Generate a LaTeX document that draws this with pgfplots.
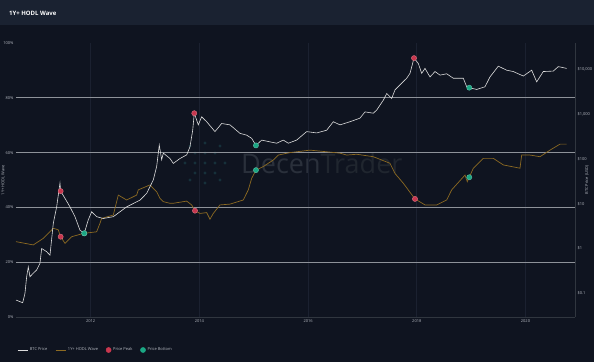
\documentclass[border=0pt]{standalone}
\usepackage{fontspec}
\setmainfont{Open Sans}
\usepackage{pgfplots}
\pgfplotsset{compat=1.18}
\pgfplotsset{lineleg/.style={legend image code/.code={\draw[##1] (0pt,0pt) -- (10pt,0pt);}}}
\definecolor{bg}{HTML}{0F1420}
\definecolor{titlebg}{HTML}{1A2231}
\definecolor{gridh}{HTML}{8E9299}
\definecolor{gridv}{HTML}{1B2130}
\definecolor{axisc}{HTML}{30363F}
\definecolor{tickc}{HTML}{B4B8C0}
\definecolor{pricec}{HTML}{DCDCDC}
\definecolor{hodlc}{HTML}{8C6A22}
\definecolor{peakc}{HTML}{C8374E}
\definecolor{bottc}{HTML}{1BA784}
\definecolor{wmA}{HTML}{2A303B}
\definecolor{wmB}{HTML}{20262F}
\definecolor{wmdot}{HTML}{16303A}
\begin{document}
\begin{tikzpicture}[x=1pt,y=1pt]
\fill[bg] (0,0) rectangle (594,362);
\fill[titlebg] (0,337) rectangle (594,362);
\node[anchor=west, text=white, font=\bfseries\fontsize{6}{7}\selectfont, inner sep=0] at (9,349) {1Y+ HODL Wave};
% watermark
\foreach \dx/\dy in {0/0,10/0,-10/0,20/0,-20/0,0/10,10/10,-10/10,0/-10,10/-10,-10/-10,0/20,0/-20,15/17,-15/17,15/-17,-15/-17}
  \fill[wmdot] (205+\dx,199+\dy) circle (1.6);
\node[anchor=west, inner sep=0, font=\fontsize{27}{30}\selectfont] at (241,199) {\textcolor{wmA}{Decen}\textcolor{wmB}{Trader}};

\begin{axis}[
  at={(16pt,45pt)}, anchor=south west, scale only axis,
  width=559pt, height=274pt,
  xmin=2010.626, xmax=2020.911, ymin=0, ymax=100,
  axis x line*=bottom, axis y line*=left,
  x axis line style={draw=axisc, line width=0.6pt},
  y axis line style={draw=none},
  major tick length=0pt,
  xtick={2012,2014,2016,2018,2020},
  xticklabels={2012,2014,2016,2018,2020},
  xmajorgrids, x grid style={draw=gridv, line width=0.6pt},
  ytick={0,20,40,60,80,100},
  yticklabels={0\%,20\%,40\%,60\%,80\%,100\%},
  extra y ticks={20,40,60,80},
  extra y tick labels={},
  extra y tick style={ymajorgrids=true, y grid style={draw=gridh, line width=0.9pt}},
  tick label style={font=\fontsize{4}{5}\selectfont, text=tickc},
  /pgf/number format/assume math mode=true,
  yticklabel style={xshift=1pt},
  xticklabel style={yshift=0.5pt},
  ylabel={1Y+ HODL Wave},
  every axis y label/.style={at={(rel axis cs:0,0.5)}, rotate=90, anchor=center, yshift=13pt, font=\fontsize{4}{5}\selectfont, text=tickc},
  clip=false,
]
\addplot[hodlc, line width=0.7pt] coordinates {
(2010.626,27.5)(2010.944,26.3)(2011.128,28.7)(2011.312,32.4)(2011.404,31.8)(2011.448,29.3)(2011.527,26.9)(2011.650,29.3)(2011.864,30.5)(2012.110,31.1)(2012.171,34.2)(2012.202,36.0)(2012.416,37.2)(2012.508,44.5)(2012.662,42.7)(2012.846,44.5)(2012.876,46.4)(2013.091,48.2)(2013.214,45.7)(2013.275,43.3)(2013.336,42.1)(2013.459,41.5)(2013.520,41.5)(2013.766,42.3)(2013.858,40.9)(2013.919,38.8)(2014.011,37.8)(2014.134,38.1)(2014.195,35.7)(2014.256,37.8)(2014.379,40.9)(2014.563,41.2)(2014.808,42.7)(2014.900,46.4)(2014.962,50.6)(2015.041,53.6)(2015.176,54.9)(2015.360,57.3)(2015.452,59.1)(2015.667,60.0)(2016.035,60.9)(2016.342,60.3)(2016.587,59.8)(2016.710,59.1)(2016.894,59.4)(2017.200,58.5)(2017.507,56.1)(2017.599,52.4)(2017.752,48.8)(2017.936,43.9)(2017.967,43.1)(2018.151,40.9)(2018.366,40.9)(2018.550,42.7)(2018.642,46.4)(2018.887,51.8)(2018.929,49.4)(2018.966,51.0)(2019.040,54.3)(2019.224,57.9)(2019.408,57.9)(2019.592,55.5)(2019.899,54.3)(2019.930,59.1)(2020.083,59.1)(2020.267,58.5)(2020.451,60.9)(2020.635,63.1)(2020.758,63.1)
};
\addplot[only marks, mark=*, mark size=2.6pt, mark options={fill=peakc, draw=peakc!70!white}] coordinates {
(2011.448,29.3)(2013.919,38.8)(2017.967,43.1)
};
\addplot[only marks, mark=*, mark size=2.6pt, mark options={fill=bottc, draw=bottc!70!white}] coordinates {
(2011.882,30.5)(2015.041,53.6)(2018.966,51.0)
};
\end{axis}

\begin{axis}[
  at={(16pt,45pt)}, anchor=south west, scale only axis,
  width=559pt, height=274pt,
  xmin=2010.626, xmax=2020.911,
  ymode=log, ymin=0.0296, ymax=38650,
  axis x line=none, axis y line*=right,
  y axis line style={draw=axisc, line width=0.6pt},
  major tick length=0pt, minor tick length=0pt,
  ytick={0.1,1,10,100,1000,10000},
  yticklabels={\$0.1,\$1,\$10,\$100,{\$1,000},{\$10,000}},
  tick label style={font=\fontsize{4}{5}\selectfont, text=tickc},
  yticklabel style={anchor=west, xshift=-1pt},
  ylabel={BTC Price (USD)},
  every axis y label/.style={at={(rel axis cs:1,0.5)}, rotate=90, anchor=center, yshift=-12pt, font=\fontsize{4}{5}\selectfont, text=tickc},
  legend style={at={(rel axis cs:0,0)}, anchor=west, yshift=-33pt, xshift=1pt,
    draw=none, fill=none, inner sep=0pt, font=\fontsize{4}{5}\selectfont, text=tickc,
    /tikz/every even column/.append style={column sep=6pt}},
  legend columns=4, legend cell align=left,
  clip=false,
]
\addlegendimage{pricec, line width=0.7pt, lineleg}
\addlegendentry{BTC Price}
\addlegendimage{hodlc, line width=0.7pt, lineleg}
\addlegendentry{1Y+ HODL Wave}
\addlegendimage{only marks, mark=*, mark size=2.6pt, mark options={fill=peakc, draw=peakc}}
\addlegendentry{Price Peak}
\addlegendimage{only marks, mark=*, mark size=2.6pt, mark options={fill=bottc, draw=bottc}}
\addlegendentry{Price Bottom}
\addplot[pricec, line width=0.6pt, forget plot] coordinates {
(2010.626,0.0708)(2010.749,0.0617)(2010.791,0.1)(2010.822,0.234)(2010.852,0.389)(2010.883,0.234)(2010.944,0.282)(2011.006,0.331)(2011.067,0.468)(2011.098,1.0)(2011.190,0.851)(2011.251,0.708)(2011.312,3.63)(2011.374,8.51)(2011.435,28.8)(2011.448,19.1)(2011.527,13.2)(2011.619,8.51)(2011.711,5.13)(2011.803,2.57)(2011.882,2.19)(2011.956,4.37)(2012.018,6.61)(2012.110,5.13)(2012.232,4.68)(2012.416,5.13)(2012.539,6.61)(2012.662,8.51)(2012.907,12.0)(2013.030,17.0)(2013.152,33.9)(2013.214,67.6)(2013.262,204)(2013.306,95.5)(2013.336,135)(2013.459,102)(2013.520,79.4)(2013.643,102)(2013.766,123)(2013.827,186)(2013.877,437)(2013.906,1047)(2013.980,575)(2014.042,871)(2014.134,676)(2014.287,407)(2014.410,617)(2014.563,575)(2014.747,372)(2014.870,339)(2014.962,288)(2015.041,200)(2015.146,263)(2015.299,240)(2015.422,224)(2015.544,263)(2015.636,224)(2015.790,263)(2015.974,407)(2016.158,380)(2016.342,437)(2016.464,676)(2016.587,575)(2016.771,676)(2016.955,813)(2017.047,1122)(2017.200,1047)(2017.262,1230)(2017.384,2042)(2017.447,2884)(2017.538,2239)(2017.599,3467)(2017.722,4898)(2017.814,6310)(2017.875,8128)(2017.949,17783)(2018.028,13490)(2018.090,8128)(2018.151,10471)(2018.243,6761)(2018.335,8913)(2018.427,7413)(2018.550,7943)(2018.672,6310)(2018.856,6310)(2018.918,4074)(2018.966,3890)(2019.102,3548)(2019.255,4074)(2019.347,6761)(2019.500,11749)(2019.654,9550)(2019.776,8913)(2019.960,7079)(2020.114,9550)(2020.206,5248)(2020.327,8913)(2020.511,9120)(2020.604,11482)(2020.758,10471)
};
\addplot[only marks, mark=*, mark size=2.6pt, mark options={fill=peakc, draw=peakc!70!white}, forget plot] coordinates {
(2011.448,19.1)(2013.906,1047)(2017.949,17783)
};
\addplot[only marks, mark=*, mark size=2.6pt, mark options={fill=bottc, draw=bottc!70!white}, forget plot] coordinates {
(2011.882,2.19)(2015.041,200)(2018.966,3890)
};
\end{axis}
\pgfresetboundingbox
\useasboundingbox (0,0) rectangle (594,362);
\end{tikzpicture}
\end{document}
